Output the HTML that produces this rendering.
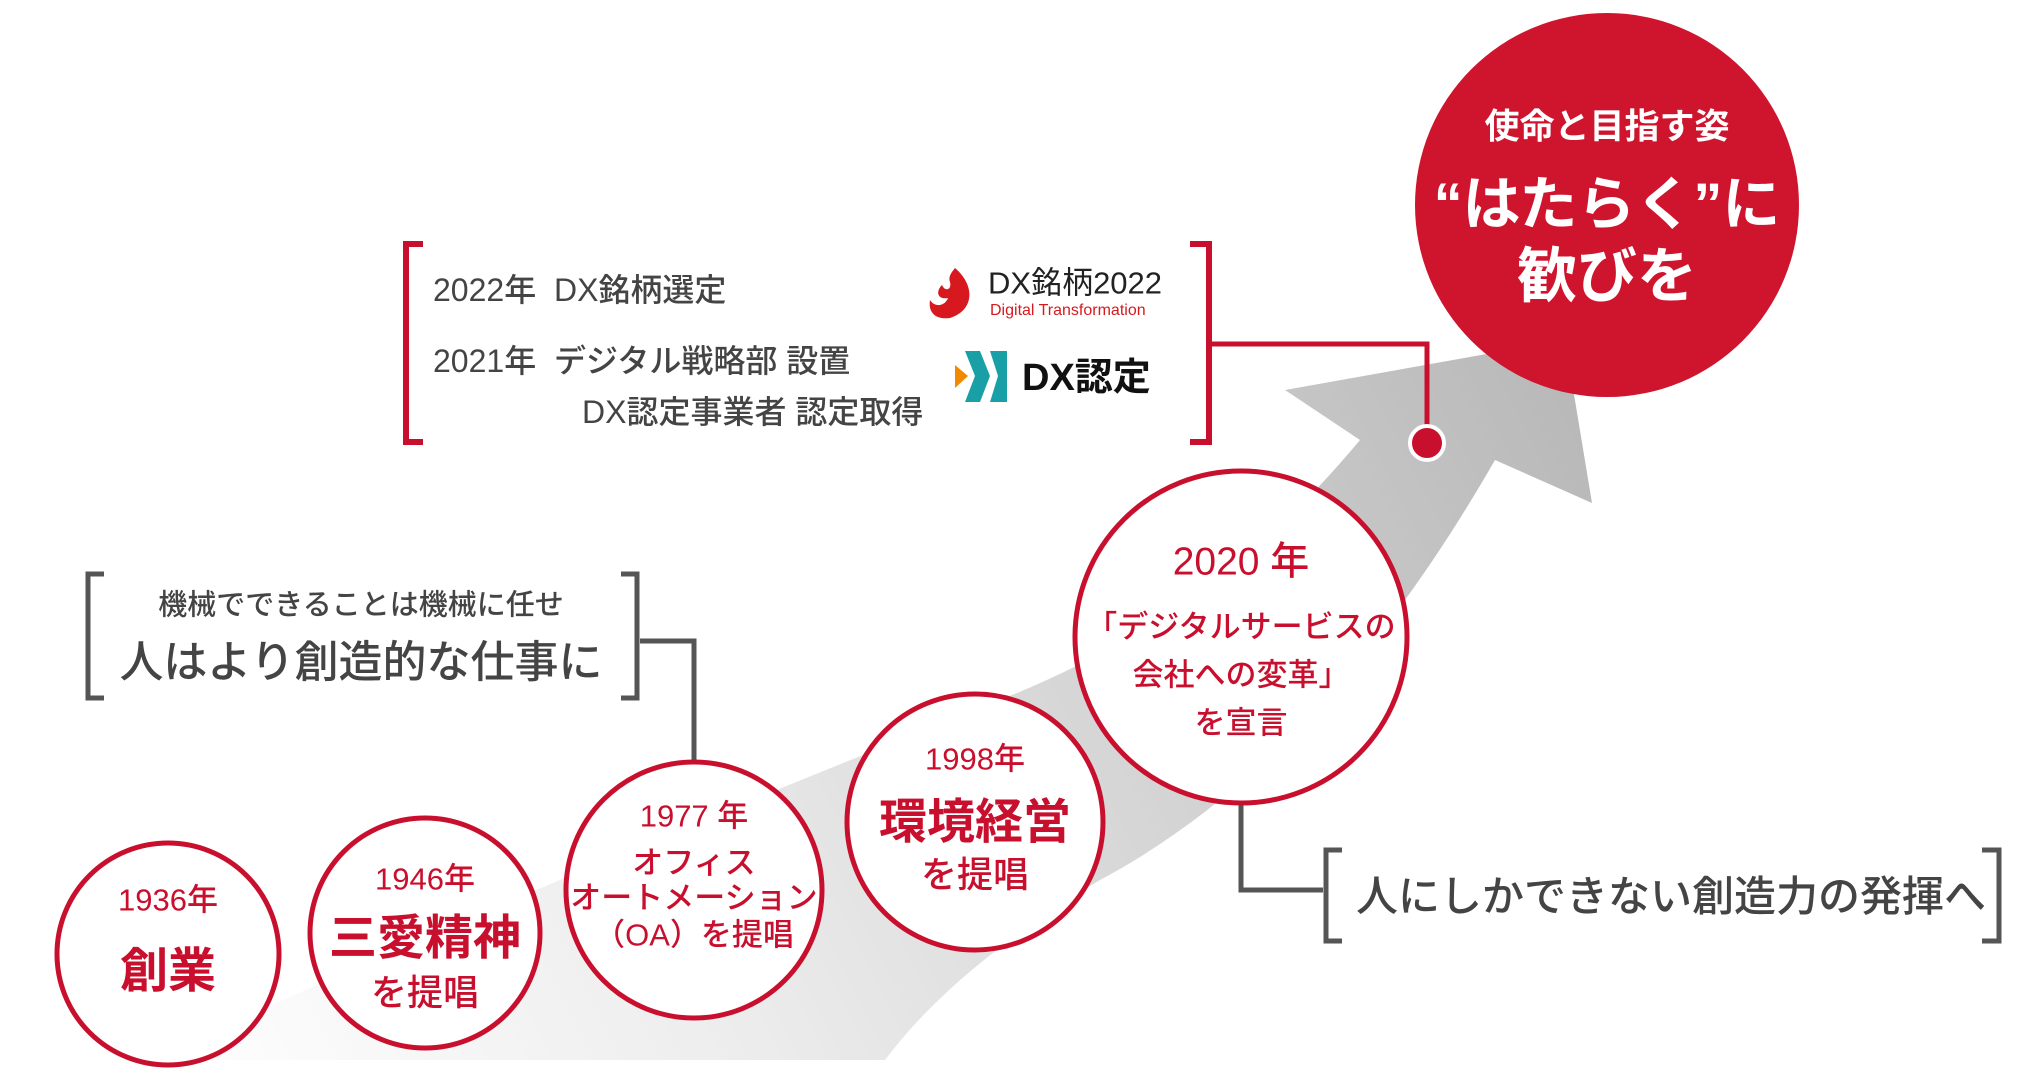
<!DOCTYPE html>
<html><head><meta charset="utf-8"><style>
html,body{margin:0;padding:0;background:#fff}
body{width:2030px;height:1090px;position:relative;overflow:hidden;font-family:"Liberation Sans","Noto Sans CJK JP",sans-serif}
.t{position:absolute;white-space:nowrap;transform:translate(-50%,-50%);line-height:1}
.l{position:absolute;white-space:nowrap;transform:translateY(-50%);line-height:1}
.r{color:#c8102e;font-weight:500}
.b{font-weight:bold}
.g{color:#444;font-weight:500}
</style></head><body>
<svg width="2030" height="1090" style="position:absolute;left:0;top:0">
<defs>
<linearGradient id="ag" x1="150" y1="1060" x2="1560" y2="350" gradientUnits="userSpaceOnUse">
<stop offset="0" stop-color="#ffffff"/><stop offset="0.35" stop-color="#ececec"/><stop offset="1" stop-color="#b8b8b8"/>
</linearGradient>
</defs>
<path d="M150 1060 C500 900 800 780 1000 700 C1150 640 1260 560 1360 440 L1285 390 L1565 340 L1592 503 L1495 460 C1380 660 1250 800 1100 880 C1000 940 930 1000 885 1060 Z" fill="url(#ag)"/>
<polyline points="1212,344 1427,344 1427,443" fill="none" stroke="#c8102e" stroke-width="5"/>
<circle cx="1427" cy="443" r="17" fill="#c8102e" stroke="#fff" stroke-width="4"/>
<polyline points="640,641 694,641 694,762" fill="none" stroke="#555" stroke-width="5"/>
<polyline points="1241,803 1241,890 1323,890" fill="none" stroke="#555" stroke-width="5"/>
<polyline points="423,244 406,244 406,442 423,442" fill="none" stroke="#c8102e" stroke-width="6"/>
<polyline points="1190,244 1209,244 1209,442 1190,442" fill="none" stroke="#c8102e" stroke-width="6"/>
<polyline points="104,574 88,574 88,698 104,698" fill="none" stroke="#555" stroke-width="5"/>
<polyline points="621,574 637,574 637,698 621,698" fill="none" stroke="#555" stroke-width="5"/>
<polyline points="1342,850 1326,850 1326,941 1342,941" fill="none" stroke="#555" stroke-width="5"/>
<polyline points="1982,850 1999,850 1999,941 1982,941" fill="none" stroke="#555" stroke-width="5"/>
<circle cx="1607" cy="205" r="192" fill="#cf152e"/>
<circle cx="168" cy="954" r="111" fill="#fff" stroke="#c8102e" stroke-width="5"/>
<circle cx="425" cy="933" r="115" fill="#fff" stroke="#c8102e" stroke-width="5"/>
<circle cx="694" cy="890" r="128" fill="#fff" stroke="#c8102e" stroke-width="5"/>
<circle cx="975" cy="822" r="128" fill="#fff" stroke="#c8102e" stroke-width="5"/>
<circle cx="1241" cy="637" r="166" fill="#fff" stroke="#c8102e" stroke-width="5"/>
<path d="M955 268 C975 285 975 310 950 318 C935 320 928 312 930 300 C935 308 945 306 948 298 C938 300 935 292 942 285 C945 292 952 290 950 282 C948 276 952 272 955 268Z" fill="#d7191f"/>
<polygon points="955,365 968,376 955,388" fill="#f08a00"/>
<polygon points="965,351 980,351 990,376 980,402 965,402 975,376" fill="#19a0a6"/>
<polygon points="990,351 1007,351 1007,402 990,402 998,376" fill="#19a0a6"/>
</svg>
<div class="t" style="left:1607px;top:127px;font-size:35px;color:#fff;font-weight:bold">使命と目指す姿</div>
<div class="t" style="left:1607px;top:205px;font-size:58px;color:#fff;font-weight:bold">“はたらく”に</div>
<div class="t" style="left:1607px;top:277px;font-size:60px;color:#fff;font-weight:bold">歓びを</div>

<div class="l g" style="left:433px;top:290px;font-size:32px">2022年&nbsp; DX銘柄選定</div>
<div class="l g" style="left:433px;top:361px;font-size:32px">2021年&nbsp; デジタル戦略部 設置</div>
<div class="l g" style="left:582px;top:412px;font-size:32px">DX認定事業者 認定取得</div>
<div class="l" style="left:988px;top:283px;font-size:31px;color:#222">DX銘柄2022</div>
<div class="l" style="left:990px;top:311px;font-size:16px;color:#d7191f">Digital Transformation</div>
<div class="l" style="left:1022px;top:378px;font-size:38px;color:#111;font-weight:bold">DX認定</div>

<div class="t g" style="left:361px;top:606px;font-size:29px">機械でできることは機械に任せ</div>
<div class="t g" style="left:361px;top:663px;font-size:44px">人はより創造的な仕事に</div>
<div class="l g" style="left:1356px;top:897px;font-size:42px">人にしかできない創造力の発揮へ</div>

<div class="t r" style="left:168px;top:900px;font-size:31px">1936年</div>
<div class="t r b" style="left:168px;top:972px;font-size:48px">創業</div>
<div class="t r" style="left:425px;top:879px;font-size:31px">1946年</div>
<div class="t r b" style="left:425px;top:939px;font-size:48px">三愛精神</div>
<div class="t r" style="left:425px;top:993px;font-size:36px">を提唱</div>
<div class="t r" style="left:694px;top:816px;font-size:31px">1977 年</div>
<div class="t r" style="left:694px;top:863px;font-size:31px">オフィス</div>
<div class="t r" style="left:694px;top:898px;font-size:31px">オートメーション</div>
<div class="t r" style="left:694px;top:935px;font-size:31px">（OA）を提唱</div>
<div class="t r" style="left:975px;top:759px;font-size:31px">1998年</div>
<div class="t r b" style="left:975px;top:823px;font-size:48px">環境経営</div>
<div class="t r" style="left:975px;top:875px;font-size:36px">を提唱</div>
<div class="t r" style="left:1241px;top:562px;font-size:39px">2020 年</div>
<div class="t r" style="left:1241px;top:627px;font-size:31px">「デジタルサービスの</div>
<div class="t r" style="left:1241px;top:675px;font-size:31px">会社への変革」</div>
<div class="t r" style="left:1241px;top:723px;font-size:31px">を宣言</div>
</body></html>
